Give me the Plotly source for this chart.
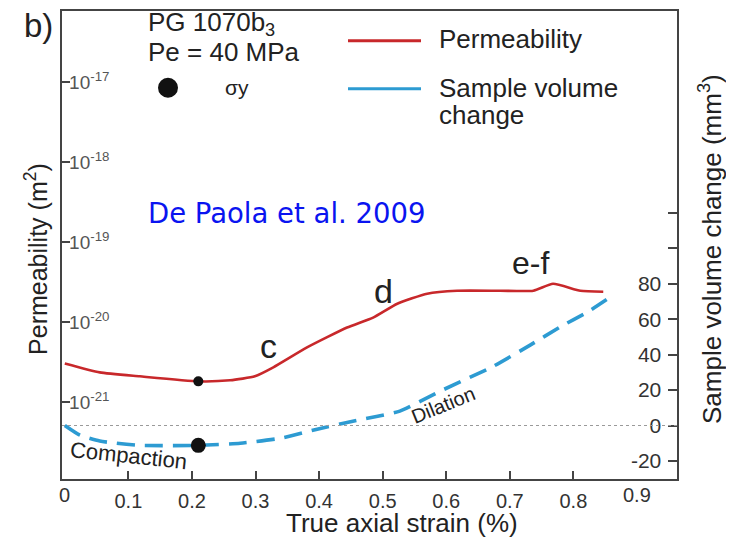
import plotly.graph_objects as go

# ---------------- data ----------------
perm_strain = [0.0, 0.055, 0.118, 0.210, 0.260, 0.299, 0.328, 0.381, 0.444, 0.485,
               0.523, 0.570, 0.617, 0.685, 0.737, 0.768, 0.811, 0.847]
perm_logk = [-20.515, -20.627, -20.676, -20.739, -20.726, -20.676, -20.564, -20.315,
             -20.066, -19.942, -19.768, -19.643, -19.606, -19.606, -19.606, -19.519,
             -19.606, -19.618]
perm_value = [10 ** v for v in perm_logk]

vol_strain = [0.0, 0.024, 0.055, 0.118, 0.210, 0.276, 0.339, 0.397, 0.453, 0.527,
              0.590, 0.674, 0.732, 0.779, 0.822, 0.858]
vol_change = [0.0, -5.5, -8.8, -11.2, -11.2, -10.0, -7.2, -2.1, 2.4, 8.1,
              19.3, 33.4, 45.4, 55.6, 64.0, 72.5]

sigma_y_strain = 0.21
sigma_y_perm = 10 ** -20.739
sigma_y_vol = -11.2

x_ticks = [0, 0.1, 0.2, 0.3, 0.4, 0.5, 0.6, 0.7, 0.8, 0.9]
x_ticklabels = ["0", "0.1", "0.2", "0.3", "0.4", "0.5", "0.6", "0.7", "0.8", "0.9"]
k_ticks = [1e-21, 1e-20, 1e-19, 1e-18, 1e-17]
k_ticklabels = ["10<sup>-21</sup>", "10<sup>-20</sup>", "10<sup>-19</sup>",
                "10<sup>-18</sup>", "10<sup>-17</sup>"]
v_ticks = [-20, 0, 20, 40, 60, 80, 100, 120]
v_ticklabels = ["-20", "0", "20", "40", "60", "80", "", ""]

# ---------------- layout helpers ----------------
PAGE_W, PAGE_H = 734, 541
OFF = 8                       # default body margin of the page
W, H = PAGE_W - OFF, PAGE_H - OFF
L, R, T, B = 62, 677, 9, 479  # plot area in page pixels


def px(x):
    return (x - L) / (R - L)


def py(y):
    return 1 - (y - T) / (B - T)


RED = "#c8282b"
BLUE = "#2d9bd2"
AXC = "#444444"
TXT = "#222222"
TICKC = "#333333"
FONT = "Liberation Sans, Arial, sans-serif"

fig = go.Figure()

fig.add_trace(go.Scatter(x=perm_strain, y=perm_value, mode="lines",
                         line=dict(color=RED, width=2.6, shape="spline", smoothing=0.5),
                         yaxis="y", showlegend=False, hoverinfo="skip"))
fig.add_trace(go.Scatter(x=vol_strain, y=vol_change, mode="lines",
                         line=dict(color=BLUE, width=3.6, dash="18px,10px",
                                   shape="spline", smoothing=0.5),
                         yaxis="y2", showlegend=False, hoverinfo="skip"))
fig.add_trace(go.Scatter(x=[sigma_y_strain], y=[sigma_y_perm], mode="markers",
                         marker=dict(color="#111111", size=10),
                         yaxis="y", showlegend=False, hoverinfo="skip"))
fig.add_trace(go.Scatter(x=[sigma_y_strain], y=[sigma_y_vol], mode="markers",
                         marker=dict(color="#111111", size=15),
                         yaxis="y2", showlegend=False, hoverinfo="skip"))

shapes = [
    # zero line of volume change
    dict(type="line", xref="paper", x0=0, x1=1, yref="y2", y0=0, y1=0,
         line=dict(color="#9a9a9a", width=1, dash="dot")),
    # legend lines
    dict(type="line", xref="paper", yref="paper", x0=px(348), x1=px(421),
         y0=py(39), y1=py(39), line=dict(color=RED, width=3)),
    dict(type="line", xref="paper", yref="paper", x0=px(348), x1=px(421),
         y0=py(87), y1=py(87), line=dict(color=BLUE, width=3)),
    # legend dot for sigma_y
    dict(type="circle", xref="paper", yref="paper", x0=px(158), x1=px(178),
         y0=py(96), y1=py(76), fillcolor="#111111", line=dict(width=0)),
]


def ann(text, x, y, size, color=TXT, xanchor="center", angle=0, family=FONT):
    return dict(text=text, x=px(x), y=py(y), xref="paper", yref="paper",
                showarrow=False, xanchor=xanchor, yanchor="middle", textangle=angle,
                font=dict(family=family, size=size, color=color))


def corner_tick(i):
    return dict(text=x_ticklabels[i], x=x_ticks[i], xref="x", y=py(495),
                yref="paper", showarrow=False, xanchor="center", yanchor="middle",
                font=dict(family=FONT, size=20, color=TICKC))


annotations = [
    ann("b)", 38, 24, 33),
    ann("PG 1070b<sub>3</sub>", 146, 22, 26, xanchor="left"),
    ann("Pe = 40 MPa", 146, 50, 26, xanchor="left"),
    ann("σy", 223, 86, 21, xanchor="left"),
    ann("Permeability", 437, 37, 26, xanchor="left"),
    ann("Sample volume", 437, 86, 26, xanchor="left"),
    ann("change", 437, 113, 26, xanchor="left"),
    ann("De Paola et al. 2009", 287, 212, 27.5, color="#0a14f0",
        family="DejaVu Sans, Verdana, sans-serif"),
    ann("c", 268, 345, 34),
    ann("d", 383, 290, 34),
    ann("e-f", 530, 262, 32),
    ann("Dilation", 443, 405, 20, angle=-22),
    ann("Compaction", 128, 455, 22, angle=6),
    ann("Permeability (m<sup>2</sup>)", 36, 258, 25, angle=-90),
    ann("Sample volume change (mm<sup>3</sup>)", 711, 248, 26, angle=-90),
    ann("True axial strain (%)", 402, 523, 26),
    # tick labels at the two corners (Plotly hides them next to inside y labels)
    corner_tick(0),
    corner_tick(len(x_ticks) - 1),
]

inner_text = list(x_ticklabels)
inner_text[0] = ""
inner_text[-1] = ""

fig.update_layout(
    width=W, height=H,
    margin=dict(l=L - OFF, r=PAGE_W - R, t=T - OFF, b=PAGE_H - B, pad=0),
    paper_bgcolor="white", plot_bgcolor="white",
    font=dict(family=FONT, color=TXT),
    showlegend=False,
    shapes=shapes,
    annotations=annotations,
    xaxis=dict(range=[-0.0044, 0.963], tickvals=x_ticks[1:], ticktext=inner_text[1:],
               ticks="inside", ticklen=8, tickwidth=1.5, tickcolor=AXC,
               ticklabelstandoff=3,
               showline=True, linecolor=AXC, linewidth=1.8, mirror=True,
               showgrid=False, zeroline=False,
               tickfont=dict(size=20, color=TICKC)),
    yaxis=dict(type="log", range=[-21.96, -16.108], tickvals=k_ticks,
               ticktext=k_ticklabels, ticks="inside", ticklen=8, tickwidth=1.5,
               tickcolor=AXC, ticklabelposition="inside",
               showline=True, linecolor=AXC, linewidth=1.8,
               showgrid=False, zeroline=False,
               tickfont=dict(size=19, color="#555555")),
    yaxis2=dict(overlaying="y", side="right", range=[-30.2, 234.0],
                tickvals=v_ticks, ticktext=v_ticklabels,
                ticks="inside", ticklen=9, tickwidth=1.5, tickcolor=AXC,
                ticklabelposition="inside", ticklabelstandoff=8,
                showline=True, linecolor=AXC, linewidth=1.8,
                showgrid=False, zeroline=False,
                tickfont=dict(size=21, color=TICKC)),
)

fig.write_html("out.html")
